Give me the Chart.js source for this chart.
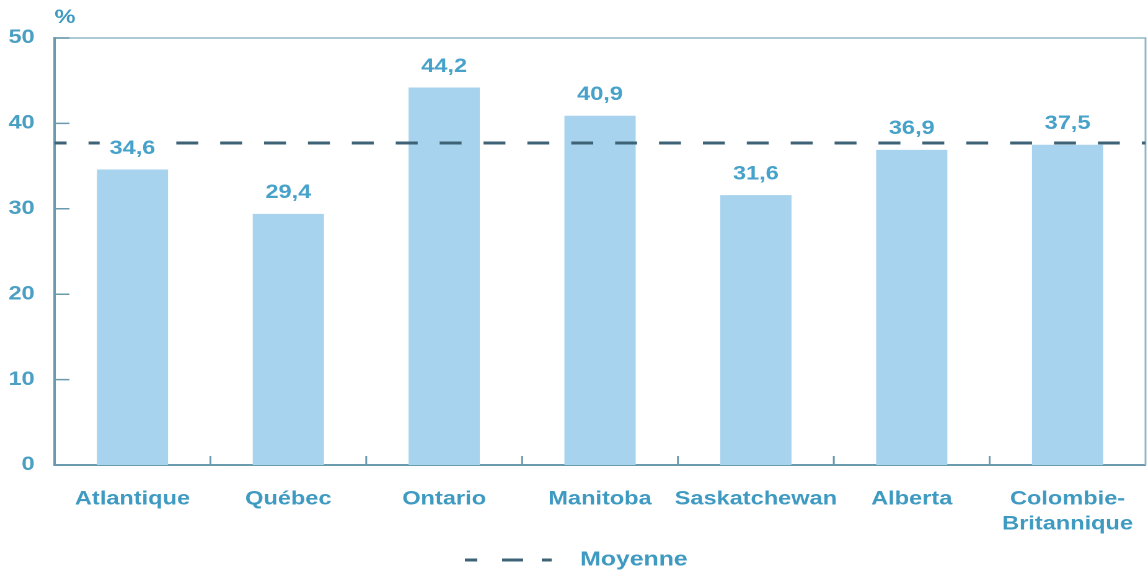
<!DOCTYPE html>
<html>
<head>
<meta charset="utf-8">
<script src="https://cdn.jsdelivr.net/npm/chart.js@4"></script>
<style>
  html, body { margin: 0; padding: 0; background: #fff; overflow: hidden; }
  /* the reference is a horizontally stretched picture, so we stretch too */
  #wrap { width: 926px; height: 575px; transform: scaleX(1.2397); transform-origin: 0 0; }
</style>
</head>
<body>
<div id="wrap"><canvas id="myChart"></canvas></div>
<script>
// data
var categories = ['Atlantique', 'Québec', 'Ontario', 'Manitoba', 'Saskatchewan', 'Alberta', ['Colombie-', 'Britannique']]
var values = [34.6, 29.4, 44.2, 40.9, 31.6, 36.9, 37.5]
var average = 37.7
var yTicks = [0, 10, 20, 30, 40, 50]
var unitLabel = '%'
var legendLabel = 'Moyenne'

var barColor = '#a7d3ee'
var axisColor = '#6b9aae'
var textColor = '#3f9ac2'
var dashColor = '#3e6376'
var fontFamily = '"Liberation Sans", Arial, sans-serif'

function frNumber(v){
    return v.toFixed(1).replace('.', ',')
}

const extras = {
    id: 'extras',
    afterDraw(chart){
        const ctx = chart.ctx
        const a = chart.chartArea
        const x = chart.scales.x
        const y = chart.scales.y
        ctx.save()

        // top and right frame
        ctx.strokeStyle = '#93b7c8'
        ctx.lineWidth = 1.5
        ctx.beginPath()
        ctx.moveTo(a.left, a.top)
        ctx.lineTo(a.right, a.top)
        ctx.lineTo(a.right, a.bottom)
        ctx.stroke()

        // small ticks pointing inside
        ctx.strokeStyle = axisColor
        ctx.beginPath()
        yTicks.forEach(v => {
            const py = y.getPixelForValue(v)
            ctx.moveTo(a.left, py)
            ctx.lineTo(a.left + 12, py)
        })
        for(var i = 1; i < categories.length; i++){
            const px = (x.getPixelForValue(i - 1) + x.getPixelForValue(i)) / 2
            ctx.moveTo(px, a.bottom)
            ctx.lineTo(px, a.bottom - 9)
        }
        ctx.stroke()

        // average line
        const ay = y.getPixelForValue(average)
        ctx.strokeStyle = dashColor
        ctx.lineWidth = 3
        ctx.setLineDash([17.7, 17.7])
        ctx.lineDashOffset = 8
        ctx.beginPath()
        ctx.moveTo(a.left, ay)
        ctx.lineTo(a.right, ay)
        ctx.stroke()
        ctx.setLineDash([])

        // value labels, white box hides the dashes behind
        ctx.font = 'bold 19px ' + fontFamily
        ctx.textAlign = 'center'
        ctx.textBaseline = 'middle'
        chart.getDatasetMeta(0).data.forEach((bar, i) => {
            const txt = frNumber(values[i])
            const w = ctx.measureText(txt).width
            const ly = bar.y - 21
            ctx.fillStyle = '#fff'
            ctx.fillRect(bar.x - w / 2 - 8, ly - 10, w + 16, 20)
            ctx.fillStyle = '#47a2ca'
            ctx.fillText(txt, bar.x, ly)
        })

        // unit over the y axis
        ctx.textAlign = 'left'
        ctx.font = 'bold 19px ' + fontFamily
        ctx.fillStyle = textColor
        ctx.fillText(unitLabel, a.left, 18)

        // legend: short - long - short dash, then the label
        ctx.strokeStyle = dashColor
        ctx.lineWidth = 3
        ctx.beginPath()
        ;[[375, 385], [405, 422], [437, 445]].forEach(s => {
            ctx.moveTo(s[0], 560)
            ctx.lineTo(s[1], 560)
        })
        ctx.stroke()
        ctx.font = 'bold 20px ' + fontFamily
        ctx.fillText(legendLabel, 468, 560)

        ctx.restore()
    }
}

const ctx = document.getElementById('myChart')

var myChart = new Chart(ctx, {
    type: 'bar',
    data: {
        labels: categories,
        datasets: [{
            label: 'Provinces',
            data: values,
            backgroundColor: barColor,
            barPercentage: 0.457,
            categoryPercentage: 1
        }]
    },
    options: {
        responsive: true,
        maintainAspectRatio: false,
        animation: false,
        devicePixelRatio: 2,
        layout: { padding: { top: 38, right: 2, left: 0, bottom: 0 } },
        plugins: {
            legend: { display: false },
            tooltip: { enabled: false }
        },
        scales: {
            x: {
                // invisible tick length pushes the labels down without
                // adding side padding to the chart area
                grid: { display: true, drawOnChartArea: false, drawTicks: true, tickLength: 22, tickColor: 'rgba(0,0,0,0)' },
                border: { display: true, color: axisColor, width: 2 },
                ticks: {
                    color: textColor,
                    padding: 0,
                    maxRotation: 0,
                    autoSkip: false,
                    font: { family: fontFamily, size: 19, weight: 'bold', lineHeight: 1.3 }
                },
                afterFit: (scale) => { scale.height = 110 }
            },
            y: {
                min: 0,
                max: 50,
                grid: { display: false, drawTicks: false },
                border: { display: true, color: axisColor, width: 2 },
                ticks: {
                    stepSize: 10,
                    color: '#4a9fc3',
                    padding: 16,
                    font: { family: fontFamily, size: 19, weight: 'bold' }
                },
                afterFit: (scale) => { scale.width = 44 }
            }
        }
    },
    plugins: [extras]
})
</script>
</body>
</html>
